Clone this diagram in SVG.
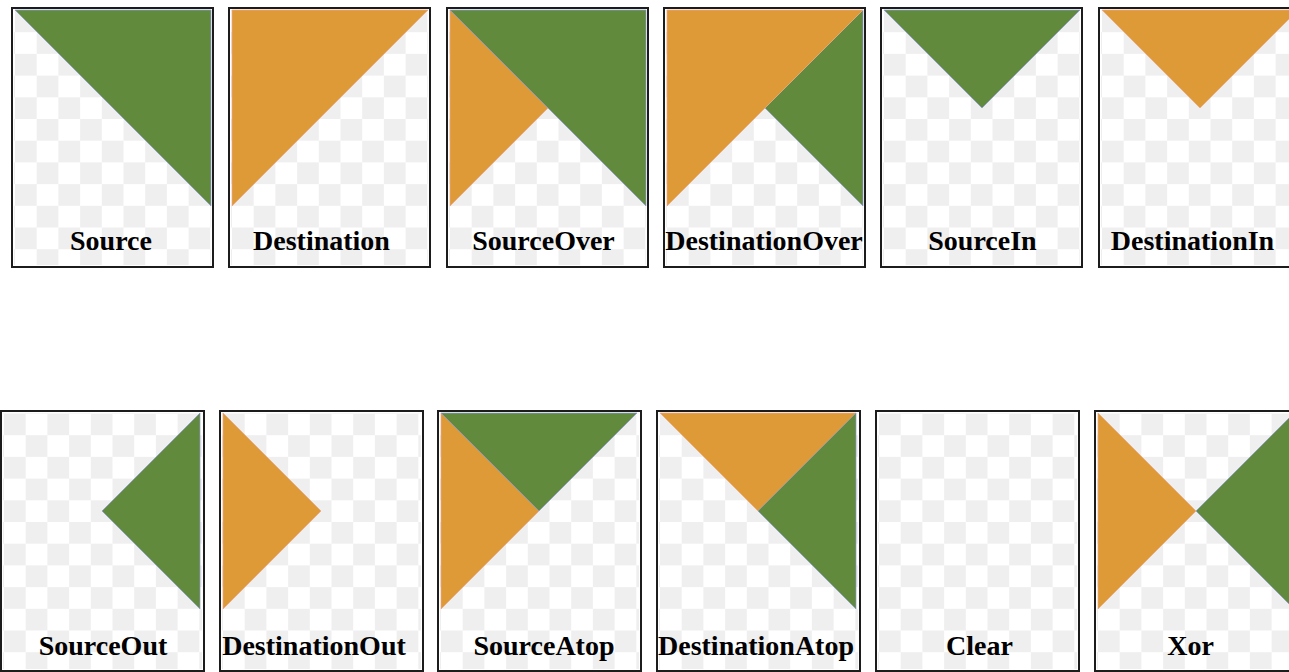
<svg xmlns="http://www.w3.org/2000/svg" width="1289" height="672" viewBox="0 0 1289 672">
  <defs>
    <pattern id="checker" patternUnits="userSpaceOnUse" x="4" y="3.5" width="43.4" height="43.4">
      <rect x="0" y="0" width="43.4" height="43.4" fill="#ffffff"/>
      <rect x="0" y="0" width="21.7" height="21.7" fill="#efefef"/>
      <rect x="21.7" y="21.7" width="21.7" height="21.7" fill="#efefef"/>
    </pattern>
  </defs>
  <style>
    .frame { fill: none; stroke: #1c1c1c; stroke-width: 2; }
    .bg { fill: url(#checker); }
    .src { fill: #618a3d; stroke: #8e98d8; stroke-width: 0.7; stroke-linejoin: miter; }
    .dst { fill: #dd9a37; stroke: #eea68a; stroke-width: 0.7; stroke-linejoin: miter; }
    .lbl { font-family: "Liberation Serif", "Times New Roman", serif; font-weight: bold; font-size: 28px; fill: #000; text-anchor: middle; }
  </style>
  <rect x="0" y="0" width="1289" height="672" fill="#ffffff"/>

  <!-- Row 1 -->
  <g id="source" transform="translate(11,7)">
    <rect class="bg" x="3" y="3" width="197" height="255"/>
    <polygon class="src" points="4,3 200,3 200,199"/>
    <rect class="frame" x="1" y="1" width="201" height="259"/>
    <text class="lbl" x="100" y="243">Source</text>
  </g>
  <g id="destination" transform="translate(228,7)">
    <rect class="bg" x="3" y="3" width="197" height="255"/>
    <polygon class="dst" points="4,3 200,3 4,199"/>
    <rect class="frame" x="1" y="1" width="201" height="259"/>
    <text class="lbl" x="93.5" y="243">Destination</text>
  </g>
  <g id="sourceover" transform="translate(446,7)">
    <rect class="bg" x="3" y="3" width="197" height="255"/>
    <polygon class="dst" points="4,3 102,101 4,199"/>
    <polygon class="src" points="4,3 200,3 200,199"/>
    <rect class="frame" x="1" y="1" width="201" height="259"/>
    <text class="lbl" x="97.5" y="243">SourceOver</text>
  </g>
  <g id="destinationover" transform="translate(663,7)">
    <rect class="bg" x="3" y="3" width="197" height="255"/>
    <polygon class="src" points="200,3 200,199 102,101"/>
    <polygon class="dst" points="4,3 200,3 4,199"/>
    <rect class="frame" x="1" y="1" width="201" height="259"/>
    <text class="lbl" x="101" y="243">DestinationOver</text>
  </g>
  <g id="sourcein" transform="translate(880,7)">
    <rect class="bg" x="3" y="3" width="197" height="255"/>
    <polygon class="src" points="4,3 200,3 102,101"/>
    <rect class="frame" x="1" y="1" width="201" height="259"/>
    <text class="lbl" x="102.5" y="243">SourceIn</text>
  </g>
  <g id="destinationin" transform="translate(1098,7)">
    <rect class="bg" x="3" y="3" width="197" height="255"/>
    <polygon class="dst" points="4,3 200,3 102,101"/>
    <rect class="frame" x="1" y="1" width="201" height="259"/>
    <text class="lbl" x="94.5" y="243">DestinationIn</text>
  </g>

  <!-- Row 2 -->
  <g id="sourceout" transform="translate(0,410)">
    <rect class="bg" x="3" y="3" width="199" height="256"/>
    <polygon class="src" points="200,3 200,199 102,101"/>
    <rect class="frame" x="1" y="1" width="203" height="260"/>
    <text class="lbl" x="103" y="245">SourceOut</text>
  </g>
  <g id="destinationout" transform="translate(219,410)">
    <rect class="bg" x="3" y="3" width="199" height="256"/>
    <polygon class="dst" points="4,3 102,101 4,199"/>
    <rect class="frame" x="1" y="1" width="203" height="260"/>
    <text class="lbl" x="95" y="245">DestinationOut</text>
  </g>
  <g id="sourceatop" transform="translate(437,410)">
    <rect class="bg" x="3" y="3" width="199" height="256"/>
    <polygon class="dst" points="4,3 102,101 4,199"/>
    <polygon class="src" points="4,3 200,3 102,101"/>
    <rect class="frame" x="1" y="1" width="203" height="260"/>
    <text class="lbl" x="107" y="245">SourceAtop</text>
  </g>
  <g id="destinationatop" transform="translate(656,410)">
    <rect class="bg" x="3" y="3" width="199" height="256"/>
    <polygon class="dst" points="4,3 200,3 102,101"/>
    <polygon class="src" points="200,3 200,199 102,101"/>
    <rect class="frame" x="1" y="1" width="203" height="260"/>
    <text class="lbl" x="100" y="245">DestinationAtop</text>
  </g>
  <g id="clear" transform="translate(875,410)">
    <rect class="bg" x="3" y="3" width="199" height="256"/>
    <rect class="frame" x="1" y="1" width="203" height="260"/>
    <text class="lbl" x="104.5" y="245">Clear</text>
  </g>
  <g id="xor" transform="translate(1094,410)">
    <rect class="bg" x="3" y="3" width="199" height="256"/>
    <polygon class="dst" points="4,3 102,101 4,199"/>
    <polygon class="src" points="200,3 200,199 102,101"/>
    <rect class="frame" x="1" y="1" width="203" height="260"/>
    <text class="lbl" x="96.5" y="245">Xor</text>
  </g>

  <g id="connectors"/>
</svg>
